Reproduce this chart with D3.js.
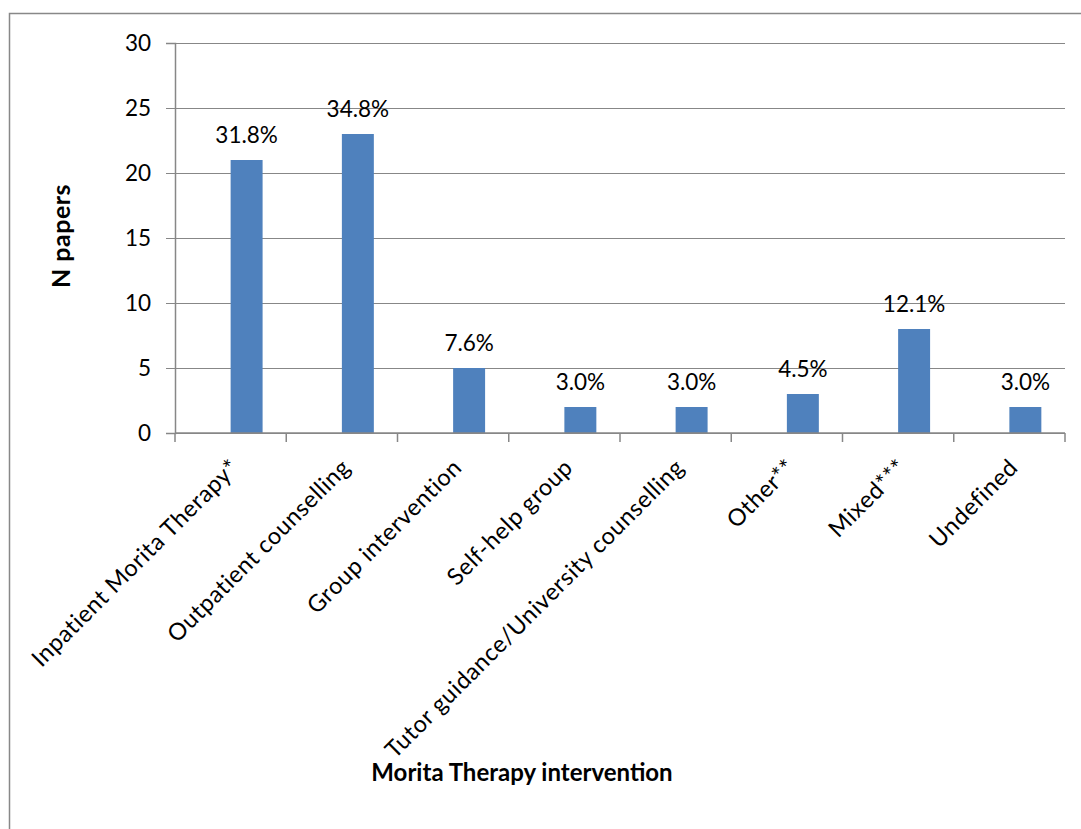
<!DOCTYPE html>
<html><head><meta charset="utf-8">
<script src="https://cdn.jsdelivr.net/npm/d3@7"></script>
<style>body{margin:0;background:#fff}svg{display:block}text{font-family:Lato,"Open Sans",sans-serif;fill:#000}</style>
</head><body>
<svg id="c" width="1081" height="829"></svg>
<script>
const categories = ["Inpatient Morita Therapy*","Outpatient counselling","Group intervention","Self-help group","Tutor guidance/University counselling","Other**","Mixed***","Undefined"];
const values = [21,23,5,2,2,3,8,2];
const percentLabels = ["31.8%","34.8%","7.6%","3.0%","3.0%","4.5%","12.1%","3.0%"];
const yTicks = [0,5,10,15,20,25,30];
const seriesSlots = ["(empty)","N papers"];

const svg = d3.select("#c");
svg.append("rect").attr("x",9.5).attr("y",13.5).attr("width",1090).attr("height",830)
  .attr("fill","none").attr("stroke","#888").attr("stroke-width",1.5);

const L=175, R=1065, T=43, B=433;
const x = d3.scaleBand().domain(categories).range([L,R]).padding(0);
const x1 = d3.scaleBand().domain(seriesSlots).range([0,x.bandwidth()]).paddingInner(0).paddingOuter(0.74);
const y = d3.scaleLinear().domain([0,30]).range([B,T]);

// gridlines
svg.append("g").selectAll("line").data(yTicks).join("line")
  .attr("x1",L-9).attr("x2",R).attr("y1",d=>Math.round(y(d))+0.5).attr("y2",d=>Math.round(y(d))+0.5)
  .attr("stroke","#878787").attr("stroke-width",1.2);

// y axis
const ya = svg.append("g").attr("transform",`translate(${L},0)`).call(d3.axisLeft(y).tickValues(yTicks).tickSize(9).tickPadding(15));
ya.select(".domain").attr("stroke","#878787").attr("stroke-width",1.5);
ya.selectAll(".tick line").attr("stroke","#878787");
ya.selectAll(".tick text").style("font-size","22.5px").attr("dy","0.35em");

// bars
svg.append("g").selectAll("rect").data(values).join("rect")
  .attr("x",(d,i)=>x(categories[i])+x1("N papers")).attr("width",x1.bandwidth())
  .attr("y",d=>y(d)).attr("height",d=>B-y(d)).attr("fill","#4F81BD");

// x axis
const xa = svg.append("g").attr("transform",`translate(0,${B})`);
xa.append("line").attr("x1",L).attr("x2",R).attr("stroke","#878787").attr("stroke-width",1.5);
xa.selectAll("line.t").data(categories).join("line").attr("class","t")
  .attr("x1",d=>x(d)).attr("x2",d=>x(d)).attr("y1",0).attr("y2",9)
  .attr("stroke","#878787").attr("stroke-width",1.5);
xa.append("line").attr("x1",R).attr("x2",R).attr("y1",0).attr("y2",9)
  .attr("stroke","#878787").attr("stroke-width",1.5);
xa.selectAll("text").data(categories).join("text")
  .attr("transform",d=>`translate(${x(d)+x.bandwidth()/2-2},${24}) rotate(-45)`)
  .attr("text-anchor","end").attr("dy","0.72em").style("font-size","23.5px")
  .style("letter-spacing","0.6px").text(d=>d);

// data labels
svg.append("g").selectAll("text").data(values).join("text")
  .attr("x",(d,i)=>x(categories[i])+x1("N papers")+x1.bandwidth()/2).attr("y",d=>y(d)-17)
  .attr("text-anchor","middle").style("font-size","22.5px").text((d,i)=>percentLabels[i]);

// titles
svg.append("text").attr("transform","translate(70,236) rotate(-90)").attr("text-anchor","middle")
  .style("font-size","25px").style("font-weight","bold").style("letter-spacing","0.5px").text("N papers");
svg.append("text").attr("x",522).attr("y",781).attr("text-anchor","middle")
  .style("font-size","24px").style("font-weight","bold").text("Morita Therapy intervention");
</script>
</body></html>
